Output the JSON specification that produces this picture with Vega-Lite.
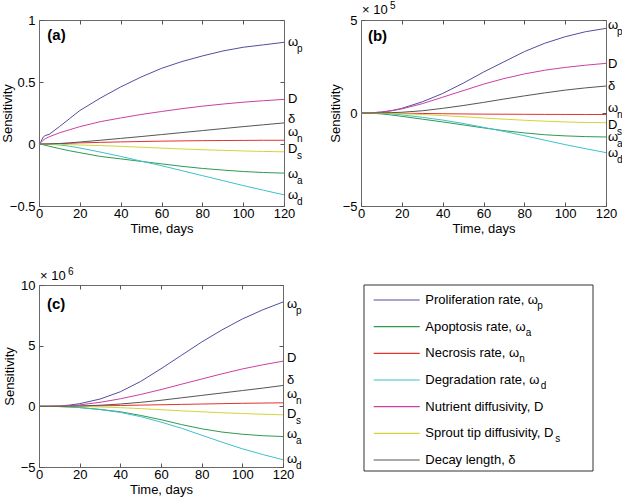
{
  "$schema": "https://vega.github.io/schema/vega-lite/v6.json",
  "padding": {"left": 0, "top": 0, "right": 0, "bottom": 0},
  "background": "white",
  "config": {
    "font": "Liberation Sans",
    "view": {"stroke": "#6a6a6a", "strokeWidth": 1},
    "axis": {"grid": false, "domain": false, "tickSize": -4, "tickColor": "#555555", "labelFontSize": 13, "labelColor": "#000000", "titleFontSize": 13, "titleFontWeight": "normal", "titleColor": "#000000", "labelFont": "Liberation Sans", "titleFont": "Liberation Sans"},
    "axisX": {"labelPadding": 5, "titlePadding": 2, "labelFlush": false},
    "axisY": {"labelPadding": 8, "titleX": -32, "titleBaseline": "middle", "labelFlush": false},
    "text": {"font": "Liberation Sans"}
  },
  "datasets": {
    "a": [
      {"t": 0, "wp": 0, "wa": 0, "wn": 0, "wd": 0, "D": 0, "Ds": 0, "dl": 0},
      {"t": 1, "wp": 0.02, "wa": -0.003, "wn": 0, "wd": 0, "D": 0.012, "Ds": 0, "dl": 0},
      {"t": 2, "wp": 0.055, "wa": -0.006, "wn": 0, "wd": 0, "D": 0.03, "Ds": 0, "dl": 0},
      {"t": 3, "wp": 0.068, "wa": -0.01, "wn": 0, "wd": -0.001, "D": 0.042, "Ds": 0, "dl": 0},
      {"t": 5, "wp": 0.078, "wa": -0.018, "wn": 0.001, "wd": -0.002, "D": 0.058, "Ds": -0.001, "dl": 0.001},
      {"t": 10, "wp": 0.14, "wa": -0.037, "wn": 0.003, "wd": -0.008, "D": 0.09, "Ds": -0.003, "dl": 0.004},
      {"t": 15, "wp": 0.205, "wa": -0.055, "wn": 0.006, "wd": -0.018, "D": 0.115, "Ds": -0.005, "dl": 0.009},
      {"t": 20, "wp": 0.27, "wa": -0.07, "wn": 0.009, "wd": -0.032, "D": 0.14, "Ds": -0.008, "dl": 0.016},
      {"t": 30, "wp": 0.37, "wa": -0.1, "wn": 0.013, "wd": -0.065, "D": 0.18, "Ds": -0.013, "dl": 0.03},
      {"t": 40, "wp": 0.46, "wa": -0.12, "wn": 0.017, "wd": -0.1, "D": 0.21, "Ds": -0.019, "dl": 0.045},
      {"t": 50, "wp": 0.54, "wa": -0.14, "wn": 0.02, "wd": -0.138, "D": 0.238, "Ds": -0.026, "dl": 0.06},
      {"t": 60, "wp": 0.61, "wa": -0.16, "wn": 0.023, "wd": -0.175, "D": 0.262, "Ds": -0.033, "dl": 0.076},
      {"t": 70, "wp": 0.665, "wa": -0.18, "wn": 0.025, "wd": -0.215, "D": 0.285, "Ds": -0.04, "dl": 0.092},
      {"t": 80, "wp": 0.71, "wa": -0.197, "wn": 0.027, "wd": -0.255, "D": 0.305, "Ds": -0.046, "dl": 0.108},
      {"t": 90, "wp": 0.75, "wa": -0.21, "wn": 0.028, "wd": -0.295, "D": 0.322, "Ds": -0.051, "dl": 0.124},
      {"t": 100, "wp": 0.78, "wa": -0.222, "wn": 0.029, "wd": -0.335, "D": 0.337, "Ds": -0.056, "dl": 0.14},
      {"t": 110, "wp": 0.8, "wa": -0.23, "wn": 0.03, "wd": -0.373, "D": 0.349, "Ds": -0.06, "dl": 0.155},
      {"t": 120, "wp": 0.82, "wa": -0.235, "wn": 0.03, "wd": -0.41, "D": 0.36, "Ds": -0.063, "dl": 0.17}
    ],
    "b": [
      {"t": 0, "wp": 0, "wa": 0, "wn": 0, "wd": 0, "D": 0, "Ds": 0, "dl": 0},
      {"t": 5, "wp": 0.01, "wa": -0.01, "wn": 0, "wd": 0, "D": 0.01, "Ds": 0, "dl": 0},
      {"t": 10, "wp": 0.05, "wa": -0.05, "wn": -0.005, "wd": -0.02, "D": 0.05, "Ds": -0.01, "dl": 0.01},
      {"t": 15, "wp": 0.13, "wa": -0.11, "wn": -0.01, "wd": -0.05, "D": 0.12, "Ds": -0.02, "dl": 0.02},
      {"t": 20, "wp": 0.25, "wa": -0.18, "wn": -0.015, "wd": -0.1, "D": 0.22, "Ds": -0.04, "dl": 0.04},
      {"t": 30, "wp": 0.6, "wa": -0.33, "wn": -0.025, "wd": -0.23, "D": 0.5, "Ds": -0.08, "dl": 0.12},
      {"t": 40, "wp": 1.05, "wa": -0.48, "wn": -0.04, "wd": -0.38, "D": 0.85, "Ds": -0.14, "dl": 0.25},
      {"t": 50, "wp": 1.6, "wa": -0.64, "wn": -0.05, "wd": -0.56, "D": 1.2, "Ds": -0.2, "dl": 0.4},
      {"t": 60, "wp": 2.2, "wa": -0.8, "wn": -0.06, "wd": -0.77, "D": 1.55, "Ds": -0.27, "dl": 0.57},
      {"t": 70, "wp": 2.75, "wa": -0.95, "wn": -0.065, "wd": -0.99, "D": 1.85, "Ds": -0.33, "dl": 0.75},
      {"t": 80, "wp": 3.3, "wa": -1.07, "wn": -0.07, "wd": -1.22, "D": 2.1, "Ds": -0.39, "dl": 0.92},
      {"t": 90, "wp": 3.75, "wa": -1.17, "wn": -0.075, "wd": -1.46, "D": 2.3, "Ds": -0.44, "dl": 1.08},
      {"t": 100, "wp": 4.1, "wa": -1.23, "wn": -0.078, "wd": -1.7, "D": 2.45, "Ds": -0.48, "dl": 1.23},
      {"t": 110, "wp": 4.37, "wa": -1.27, "wn": -0.08, "wd": -1.92, "D": 2.57, "Ds": -0.51, "dl": 1.35},
      {"t": 120, "wp": 4.55, "wa": -1.29, "wn": -0.08, "wd": -2.13, "D": 2.67, "Ds": -0.52, "dl": 1.45}
    ],
    "c": [
      {"t": 0, "wp": 0, "wa": 0, "wn": 0, "wd": 0, "D": 0, "Ds": 0, "dl": 0},
      {"t": 5, "wp": 0.005, "wa": -0.003, "wn": 0, "wd": -0.003, "D": 0.003, "Ds": 0, "dl": 0},
      {"t": 10, "wp": 0.03, "wa": -0.02, "wn": 0.005, "wd": -0.02, "D": 0.02, "Ds": 0, "dl": 0},
      {"t": 15, "wp": 0.1, "wa": -0.05, "wn": 0.01, "wd": -0.05, "D": 0.06, "Ds": -0.005, "dl": 0.01},
      {"t": 20, "wp": 0.22, "wa": -0.1, "wn": 0.02, "wd": -0.1, "D": 0.12, "Ds": -0.015, "dl": 0.03},
      {"t": 30, "wp": 0.6, "wa": -0.25, "wn": 0.04, "wd": -0.27, "D": 0.33, "Ds": -0.05, "dl": 0.09},
      {"t": 40, "wp": 1.2, "wa": -0.45, "wn": 0.07, "wd": -0.5, "D": 0.62, "Ds": -0.11, "dl": 0.19},
      {"t": 50, "wp": 2.05, "wa": -0.75, "wn": 0.1, "wd": -0.85, "D": 0.98, "Ds": -0.19, "dl": 0.33},
      {"t": 60, "wp": 3.1, "wa": -1.1, "wn": 0.13, "wd": -1.3, "D": 1.38, "Ds": -0.28, "dl": 0.5},
      {"t": 70, "wp": 4.2, "wa": -1.5, "wn": 0.16, "wd": -1.8, "D": 1.82, "Ds": -0.37, "dl": 0.7},
      {"t": 80, "wp": 5.3, "wa": -1.85, "wn": 0.19, "wd": -2.38, "D": 2.25, "Ds": -0.45, "dl": 0.9},
      {"t": 90, "wp": 6.3, "wa": -2.12, "wn": 0.22, "wd": -2.95, "D": 2.68, "Ds": -0.53, "dl": 1.1},
      {"t": 100, "wp": 7.2, "wa": -2.3, "wn": 0.25, "wd": -3.5, "D": 3.08, "Ds": -0.59, "dl": 1.3},
      {"t": 110, "wp": 7.95, "wa": -2.42, "wn": 0.27, "wd": -3.97, "D": 3.42, "Ds": -0.65, "dl": 1.5},
      {"t": 120, "wp": 8.6, "wa": -2.49, "wn": 0.29, "wd": -4.4, "D": 3.72, "Ds": -0.7, "dl": 1.72}
    ],
    "la": [
      {"param": "wp", "main": "ω", "sub": "p", "ly": 0.823},
      {"param": "D", "main": "D", "sub": "", "ly": 0.365},
      {"param": "dl", "main": "δ", "sub": "", "ly": 0.205},
      {"param": "wn", "main": "ω", "sub": "n", "ly": 0.095},
      {"param": "Ds", "main": "D", "sub": "s", "ly": -0.04},
      {"param": "wa", "main": "ω", "sub": "a", "ly": -0.24},
      {"param": "wd", "main": "ω", "sub": "d", "ly": -0.414}
    ],
    "lb": [
      {"param": "wp", "main": "ω", "sub": "p", "ly": 4.73},
      {"param": "D", "main": "D", "sub": "", "ly": 2.66},
      {"param": "dl", "main": "δ", "sub": "", "ly": 1.44},
      {"param": "wn", "main": "ω", "sub": "n", "ly": 0.28},
      {"param": "Ds", "main": "D", "sub": "s", "ly": -0.64},
      {"param": "wa", "main": "ω", "sub": "a", "ly": -1.28},
      {"param": "wd", "main": "ω", "sub": "d", "ly": -2.16}
    ],
    "lc": [
      {"param": "wp", "main": "ω", "sub": "p", "ly": 8.43},
      {"param": "D", "main": "D", "sub": "", "ly": 4.0},
      {"param": "dl", "main": "δ", "sub": "", "ly": 2.2},
      {"param": "wn", "main": "ω", "sub": "n", "ly": 1.02},
      {"param": "Ds", "main": "D", "sub": "s", "ly": -0.64},
      {"param": "wa", "main": "ω", "sub": "a", "ly": -2.25},
      {"param": "wd", "main": "ω", "sub": "d", "ly": -4.34}
    ],
    "leg": [
      {"param": "wp", "i": 0, "label": "Proliferation rate, ω"},
      {"param": "wa", "i": 1, "label": "Apoptosis rate, ω"},
      {"param": "wn", "i": 2, "label": "Necrosis rate, ω"},
      {"param": "wd", "i": 3, "label": "Degradation rate, ω"},
      {"param": "D", "i": 4, "label": "Nutrient diffusivity, D"},
      {"param": "Ds", "i": 5, "label": "Sprout tip diffusivity, D"},
      {"param": "dl", "i": 6, "label": "Decay length, δ"}
    ],
    "one": [{"k": 1}]
  },
  "columns": 2,
  "spacing": {"row": 79, "column": 77},
  "bounds": "flush",
  "concat": [
    {
      "width": 245, "height": 186,
      "resolve": {"axis": {"x": "independent", "y": "independent"}},
      "layer": [
        {
          "data": {"name": "a"},
          "transform": [{"fold": ["wp", "wa", "wn", "wd", "D", "Ds", "dl"], "as": ["param", "v"]}],
          "mark": {"type": "line", "strokeWidth": 1},
          "encoding": {
            "x": {"field": "t", "type": "quantitative", "scale": {"domain": [0, 120], "nice": false}, "axis": {"values": [0, 20, 40, 60, 80, 100, 120], "title": "Time, days"}},
            "y": {"field": "v", "type": "quantitative", "scale": {"domain": [-0.5, 1], "nice": false, "zero": false}, "axis": {"values": [-0.5, 0, 0.5, 1], "format": "~r", "title": "Sensitivity"}},
            "color": {"field": "param", "type": "nominal", "legend": null, "scale": {"domain": ["wp", "wa", "wn", "wd", "D", "Ds", "dl"], "range": ["#4f4f9f", "#2e9a4e", "#e5322d", "#3fbfcf", "#cc3fa0", "#d4d43a", "#555555"]}}
          }
        },
        {
          "data": {"name": "la"},
          "mark": {"type": "text", "align": "left", "baseline": "middle", "dx": 4, "fontSize": 13, "color": "#000000"},
          "encoding": {
            "x": {"datum": 120, "type": "quantitative", "axis": {"orient": "top", "labels": false, "title": null, "values": [20, 40, 60, 80, 100]}},
            "y": {"field": "ly", "type": "quantitative", "axis": {"orient": "right", "labels": false, "title": null, "values": [-0.5, 0, 0.5, 1]}},
            "text": {"field": "main"}
          }
        },
        {
          "data": {"name": "la"},
          "mark": {"type": "text", "align": "left", "baseline": "middle", "dx": 13, "dy": 7, "fontSize": 10, "color": "#000000"},
          "encoding": {"x": {"datum": 120, "type": "quantitative", "axis": null}, "y": {"field": "ly", "type": "quantitative", "axis": null}, "text": {"field": "sub"}}
        },
        {
          "data": {"name": "one"},
          "mark": {"type": "text", "align": "left", "baseline": "middle", "fontSize": 15, "fontWeight": "bold", "color": "#000000", "text": "(a)"},
          "encoding": {"x": {"datum": 4.1, "type": "quantitative", "axis": null}, "y": {"datum": 0.883, "type": "quantitative", "axis": null}}
        }
      ]
    },
    {
      "width": 245, "height": 186,
      "resolve": {"axis": {"x": "independent", "y": "independent"}},
      "layer": [
        {
          "data": {"name": "b"},
          "transform": [{"fold": ["wp", "wa", "wn", "wd", "D", "Ds", "dl"], "as": ["param", "v"]}],
          "mark": {"type": "line", "strokeWidth": 1},
          "encoding": {
            "x": {"field": "t", "type": "quantitative", "scale": {"domain": [0, 120], "nice": false}, "axis": {"values": [0, 20, 40, 60, 80, 100, 120], "title": "Time, days"}},
            "y": {"field": "v", "type": "quantitative", "scale": {"domain": [-5, 5], "nice": false, "zero": false}, "axis": {"values": [-5, 0, 5], "format": "~r", "title": "Sensitivity", "titleX": -26}},
            "color": {"field": "param", "type": "nominal", "legend": null, "scale": {"domain": ["wp", "wa", "wn", "wd", "D", "Ds", "dl"], "range": ["#4f4f9f", "#2e9a4e", "#e5322d", "#3fbfcf", "#cc3fa0", "#d4d43a", "#555555"]}}
          }
        },
        {
          "data": {"name": "lb"},
          "mark": {"type": "text", "align": "left", "baseline": "middle", "dx": 2, "fontSize": 13, "color": "#000000"},
          "encoding": {
            "x": {"datum": 120, "type": "quantitative", "axis": {"orient": "top", "labels": false, "title": null, "values": [20, 40, 60, 80, 100]}},
            "y": {"field": "ly", "type": "quantitative", "axis": {"orient": "right", "labels": false, "title": null, "values": [-5, 0, 5]}},
            "text": {"field": "main"}
          }
        },
        {
          "data": {"name": "lb"},
          "mark": {"type": "text", "align": "left", "baseline": "middle", "dx": 11, "dy": 7, "fontSize": 10, "color": "#000000"},
          "encoding": {"x": {"datum": 120, "type": "quantitative", "axis": null}, "y": {"field": "ly", "type": "quantitative", "axis": null}, "text": {"field": "sub"}}
        },
        {
          "data": {"name": "one"},
          "mark": {"type": "text", "align": "left", "baseline": "middle", "fontSize": 15, "fontWeight": "bold", "color": "#000000", "text": "(b)"},
          "encoding": {"x": {"datum": 3.4, "type": "quantitative", "axis": null}, "y": {"datum": 4.14, "type": "quantitative", "axis": null}}
        },
        {
          "data": {"name": "one"},
          "mark": {"type": "text", "align": "left", "baseline": "middle", "fontSize": 13, "dx": 1, "dy": -10, "color": "#000000", "text": "× 10"},
          "encoding": {"x": {"datum": 0, "type": "quantitative", "axis": null}, "y": {"datum": 5, "type": "quantitative", "axis": null}}
        },
        {
          "data": {"name": "one"},
          "mark": {"type": "text", "align": "left", "baseline": "middle", "fontSize": 10, "dx": 29, "dy": -14, "color": "#000000", "text": "5"},
          "encoding": {"x": {"datum": 0, "type": "quantitative", "axis": null}, "y": {"datum": 5, "type": "quantitative", "axis": null}}
        }
      ]
    },
    {
      "width": 244, "height": 182,
      "resolve": {"axis": {"x": "independent", "y": "independent"}},
      "layer": [
        {
          "data": {"name": "c"},
          "transform": [{"fold": ["wp", "wa", "wn", "wd", "D", "Ds", "dl"], "as": ["param", "v"]}],
          "mark": {"type": "line", "strokeWidth": 1},
          "encoding": {
            "x": {"field": "t", "type": "quantitative", "scale": {"domain": [0, 120], "nice": false}, "axis": {"values": [0, 20, 40, 60, 80, 100, 120], "title": "Time, days"}},
            "y": {"field": "v", "type": "quantitative", "scale": {"domain": [-5, 10], "nice": false, "zero": false}, "axis": {"values": [-5, 0, 5, 10], "format": "~r", "title": "Sensitivity", "titleX": -30}},
            "color": {"field": "param", "type": "nominal", "legend": null, "scale": {"domain": ["wp", "wa", "wn", "wd", "D", "Ds", "dl"], "range": ["#4f4f9f", "#2e9a4e", "#e5322d", "#3fbfcf", "#cc3fa0", "#d4d43a", "#555555"]}}
          }
        },
        {
          "data": {"name": "lc"},
          "mark": {"type": "text", "align": "left", "baseline": "middle", "dx": 4, "fontSize": 13, "color": "#000000"},
          "encoding": {
            "x": {"datum": 120, "type": "quantitative", "axis": {"orient": "top", "labels": false, "title": null, "values": [20, 40, 60, 80, 100]}},
            "y": {"field": "ly", "type": "quantitative", "axis": {"orient": "right", "labels": false, "title": null, "values": [-5, 0, 5, 10]}},
            "text": {"field": "main"}
          }
        },
        {
          "data": {"name": "lc"},
          "mark": {"type": "text", "align": "left", "baseline": "middle", "dx": 13, "dy": 7, "fontSize": 10, "color": "#000000"},
          "encoding": {"x": {"datum": 120, "type": "quantitative", "axis": null}, "y": {"field": "ly", "type": "quantitative", "axis": null}, "text": {"field": "sub"}}
        },
        {
          "data": {"name": "one"},
          "mark": {"type": "text", "align": "left", "baseline": "middle", "fontSize": 15, "fontWeight": "bold", "color": "#000000", "text": "(c)"},
          "encoding": {"x": {"datum": 3.9, "type": "quantitative", "axis": null}, "y": {"datum": 8.43, "type": "quantitative", "axis": null}}
        },
        {
          "data": {"name": "one"},
          "mark": {"type": "text", "align": "left", "baseline": "middle", "fontSize": 13, "dx": 1, "dy": -9, "color": "#000000", "text": "× 10"},
          "encoding": {"x": {"datum": 0, "type": "quantitative", "axis": null}, "y": {"datum": 10, "type": "quantitative", "axis": null}}
        },
        {
          "data": {"name": "one"},
          "mark": {"type": "text", "align": "left", "baseline": "middle", "fontSize": 10, "dx": 29, "dy": -13.5, "color": "#000000", "text": "6"},
          "encoding": {"x": {"datum": 0, "type": "quantitative", "axis": null}, "y": {"datum": 10, "type": "quantitative", "axis": null}}
        }
      ]
    },
    {
      "width": 232, "height": 186,
      "view": {"stroke": null},
      "layer": [
        {
          "data": {"name": "one"},
          "mark": {"type": "rect", "fill": null, "stroke": "#333333", "strokeWidth": 1},
          "encoding": {
            "x": {"datum": 0.0129, "type": "quantitative", "scale": {"domain": [0, 1], "nice": false, "zero": false}, "axis": null},
            "x2": {"datum": 1},
            "y": {"datum": -0.5625, "type": "quantitative", "scale": {"domain": [-0.5625, 6.4125], "nice": false, "zero": false, "reverse": true}, "axis": null},
            "y2": {"datum": 6.4125}
          }
        },
        {
          "data": {"name": "leg"},
          "mark": {"type": "rule", "strokeWidth": 1.2},
          "encoding": {
            "x": {"datum": 0.0547, "type": "quantitative"},
            "x2": {"datum": 0.253},
            "y": {"field": "i", "type": "quantitative"},
            "color": {"field": "param", "type": "nominal", "legend": null, "scale": {"domain": ["wp", "wa", "wn", "wd", "D", "Ds", "dl"], "range": ["#4f4f9f", "#2e9a4e", "#e5322d", "#3fbfcf", "#cc3fa0", "#d4d43a", "#222222"]}}
          }
        },
        {
          "data": {"name": "leg"},
          "mark": {"type": "text", "align": "left", "baseline": "middle", "fontSize": 13, "color": "#000000"},
          "encoding": {"x": {"datum": 0.277, "type": "quantitative"}, "y": {"field": "i", "type": "quantitative"}, "text": {"field": "label"}}
        },
        {
          "data": {"name": "leg"},
          "transform": [{"filter": "datum.param == 'wp'"}],
          "mark": {"type": "text", "align": "left", "baseline": "middle", "fontSize": 10, "dx": 112, "dy": 6, "color": "#000000", "text": "p"},
          "encoding": {"x": {"datum": 0.277, "type": "quantitative"}, "y": {"field": "i", "type": "quantitative"}}
        },
        {
          "data": {"name": "leg"},
          "transform": [{"filter": "datum.param == 'wa'"}],
          "mark": {"type": "text", "align": "left", "baseline": "middle", "fontSize": 10, "dx": 100.5, "dy": 6, "color": "#000000", "text": "a"},
          "encoding": {"x": {"datum": 0.277, "type": "quantitative"}, "y": {"field": "i", "type": "quantitative"}}
        },
        {
          "data": {"name": "leg"},
          "transform": [{"filter": "datum.param == 'wn'"}],
          "mark": {"type": "text", "align": "left", "baseline": "middle", "fontSize": 10, "dx": 94, "dy": 6, "color": "#000000", "text": "n"},
          "encoding": {"x": {"datum": 0.277, "type": "quantitative"}, "y": {"field": "i", "type": "quantitative"}}
        },
        {
          "data": {"name": "leg"},
          "transform": [{"filter": "datum.param == 'wd'"}],
          "mark": {"type": "text", "align": "left", "baseline": "middle", "fontSize": 10, "dx": 115.5, "dy": 6, "color": "#000000", "text": "d"},
          "encoding": {"x": {"datum": 0.277, "type": "quantitative"}, "y": {"field": "i", "type": "quantitative"}}
        },
        {
          "data": {"name": "leg"},
          "transform": [{"filter": "datum.param == 'Ds'"}],
          "mark": {"type": "text", "align": "left", "baseline": "middle", "fontSize": 10, "dx": 130, "dy": 6, "color": "#000000", "text": "s"},
          "encoding": {"x": {"datum": 0.277, "type": "quantitative"}, "y": {"field": "i", "type": "quantitative"}}
        }
      ]
    }
  ]
}
